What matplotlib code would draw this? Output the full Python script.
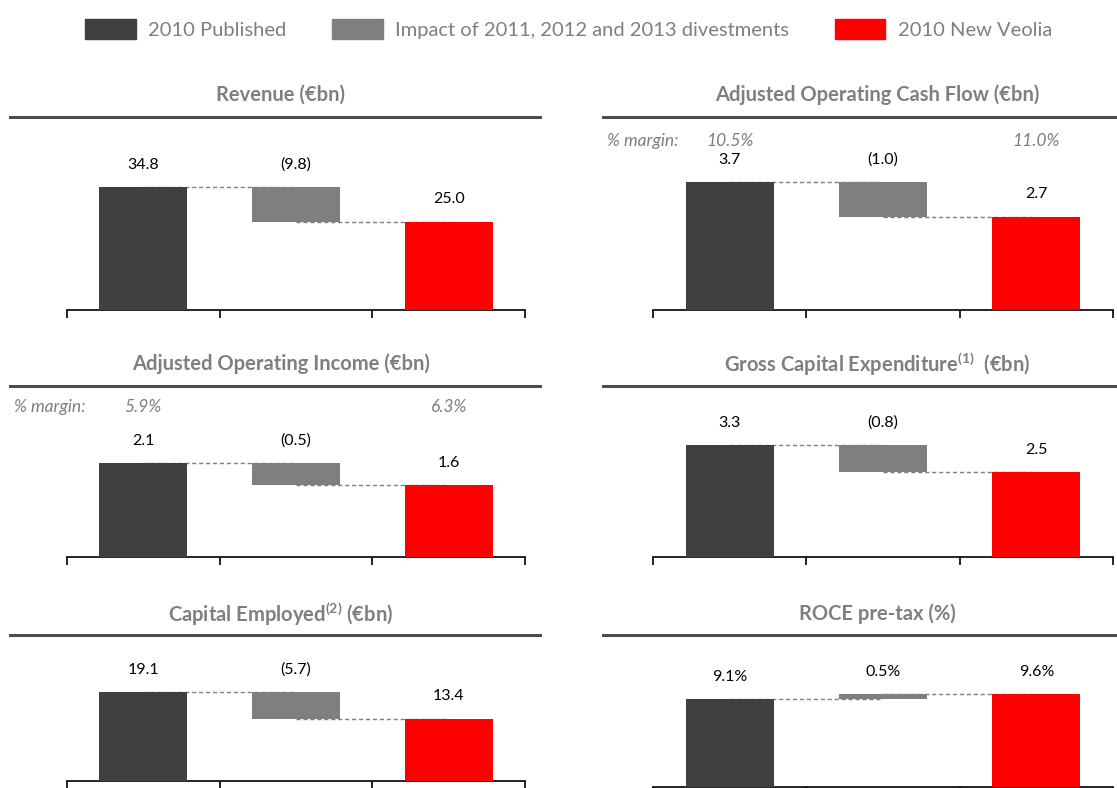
import numpy as np
import matplotlib.pyplot as plt
from matplotlib.lines import Line2D
from matplotlib.patches import Patch
import matplotlib.transforms as mtransforms

plt.rcParams['font.family'] = ['Lato', 'DejaVu Sans']
plt.rcParams['mathtext.default'] = 'regular'

# data
titles = ["Revenue (€bn)",
          "Adjusted Operating Cash Flow (€bn)",
          "Adjusted Operating Income (€bn)",
          "Gross Capital Expenditure$^{(1)}$  (€bn)",
          "Capital Employed$^{(2)}$ (€bn)",
          "ROCE pre-tax (%)"]
published = [34.8, 3.7, 2.1, 3.3, 19.1, 9.1]
impact = [-9.8, -1.0, -0.5, -0.8, -5.7, 0.5]
new_veolia = [25.0, 2.7, 1.6, 2.5, 13.4, 9.6]
suffix = ["", "", "", "", "", "%"]
margin_start = [None, "10.5%", "5.9%", None, None, None]
margin_end = [None, "11.0%", "6.3%", None, None, None]
legend_labels = ["2010 Published", "Impact of 2011, 2012 and 2013 divestments", "2010 New Veolia"]

colors = ["#404040", "#7f7f7f", "#ff0000"]
grey_txt = "#7f7f7f"

W, H = 1117, 788
fig = plt.figure(figsize=(W / 100, H / 100), dpi=100)

# pixel layout: columns (axes left, axes right, rule left, rule right, title x)
cols = [(67, 525, 10, 540, 281), (653, 1113, 603, 1117, 877)]
# rows (axes top, axes bottom, rule y, title y)
rows = [(120, 310, 117, 95), (389, 557, 386, 364), (638, 781, 635, 614)]
bottoms_right = [310, 557, 787]
ymax = [53.8, 5.49, 3.75, 4.95, 30.7, 15.4]


def fx(px):
    return px / W


def fy(py):
    return 1 - py / H


x = np.arange(3)
for i in range(6):
    r, c = divmod(i, 2)
    al, ar, rl, rr, tx = cols[c]
    at, ab, ry, ty = rows[r]
    if c == 1:
        ab = bottoms_right[r]
    ax = fig.add_axes([fx(al), fy(ab), fx(ar - al), (ab - at) / H])

    start = published[i]
    end = new_veolia[i]
    d = impact[i]
    lo, hi = min(start, start + d), max(start, start + d)
    ax.bar(x, [start, hi - lo, end], bottom=[0, lo, 0], width=0.575,
           color=colors, zorder=3)
    # dashed connectors between bars
    ax.plot([0, 1], [start, start], ls=(0, (3, 2)), color="#7f7f7f", lw=1, zorder=2)
    ax.plot([1, 2], [start + d, start + d], ls=(0, (3, 2)), color="#7f7f7f", lw=1, zorder=2)

    if d < 0:
        dlab = "(%.1f%s)" % (-d, suffix[i])
    else:
        dlab = "%.1f%s" % (d, suffix[i])
    labs = ["%.1f%s" % (start, suffix[i]), dlab, "%.1f%s" % (end, suffix[i])]
    tops = [start, hi, end]
    for xi, t, lab in zip(x, tops, labs):
        ax.annotate(lab, (xi, t), xytext=(0, 16), textcoords="offset points",
                    ha="center", va="center", fontsize=11.5, color="black")

    if margin_start[i]:
        trans = mtransforms.blended_transform_factory(ax.transData, ax.transAxes)
        ax.text(0, 0.89, margin_start[i], transform=trans, ha="center", va="center",
                fontsize=12.5, style="italic", color=grey_txt)
        ax.text(2, 0.89, margin_end[i], transform=trans, ha="center", va="center",
                fontsize=12.5, style="italic", color=grey_txt)
        ypx = ab - 0.89 * (ab - at)
        fig.text(fx(rl + 4), fy(ypx), "% margin:", ha="left", va="center",
                 fontsize=12.5, style="italic", color=grey_txt)

    ax.set_xlim(-0.5, 2.5)
    ax.set_ylim(0, ymax[i])
    for s in ["top", "right", "left"]:
        ax.spines[s].set_visible(False)
    ax.spines["bottom"].set_linewidth(1.2)
    ax.set_yticks([])
    ax.set_xticks([-0.5, 0.5, 1.5, 2.5])
    ax.set_xticklabels([])
    ax.tick_params(axis="x", direction="out", length=6, width=1.2, color="black")

    # title and rule under it
    fig.text(fx(tx), fy(ty), titles[i], ha="center", va="center", fontsize=14.5,
             fontweight="bold", color=grey_txt)
    fig.add_artist(Line2D([fx(rl), fx(rr)], [fy(ry), fy(ry)], color="#4d4d4d", lw=2.2))

handles = [Patch(color=c) for c in colors]
fig.legend(handles, legend_labels, loc="center", bbox_to_anchor=(0.509, fy(29)),
           ncol=3, frameon=False, handlelength=2.5, handleheight=1.2,
           columnspacing=2.3, handletextpad=0.6, fontsize=14.5, labelcolor=grey_txt)

fig.savefig("out.png", dpi=100)
